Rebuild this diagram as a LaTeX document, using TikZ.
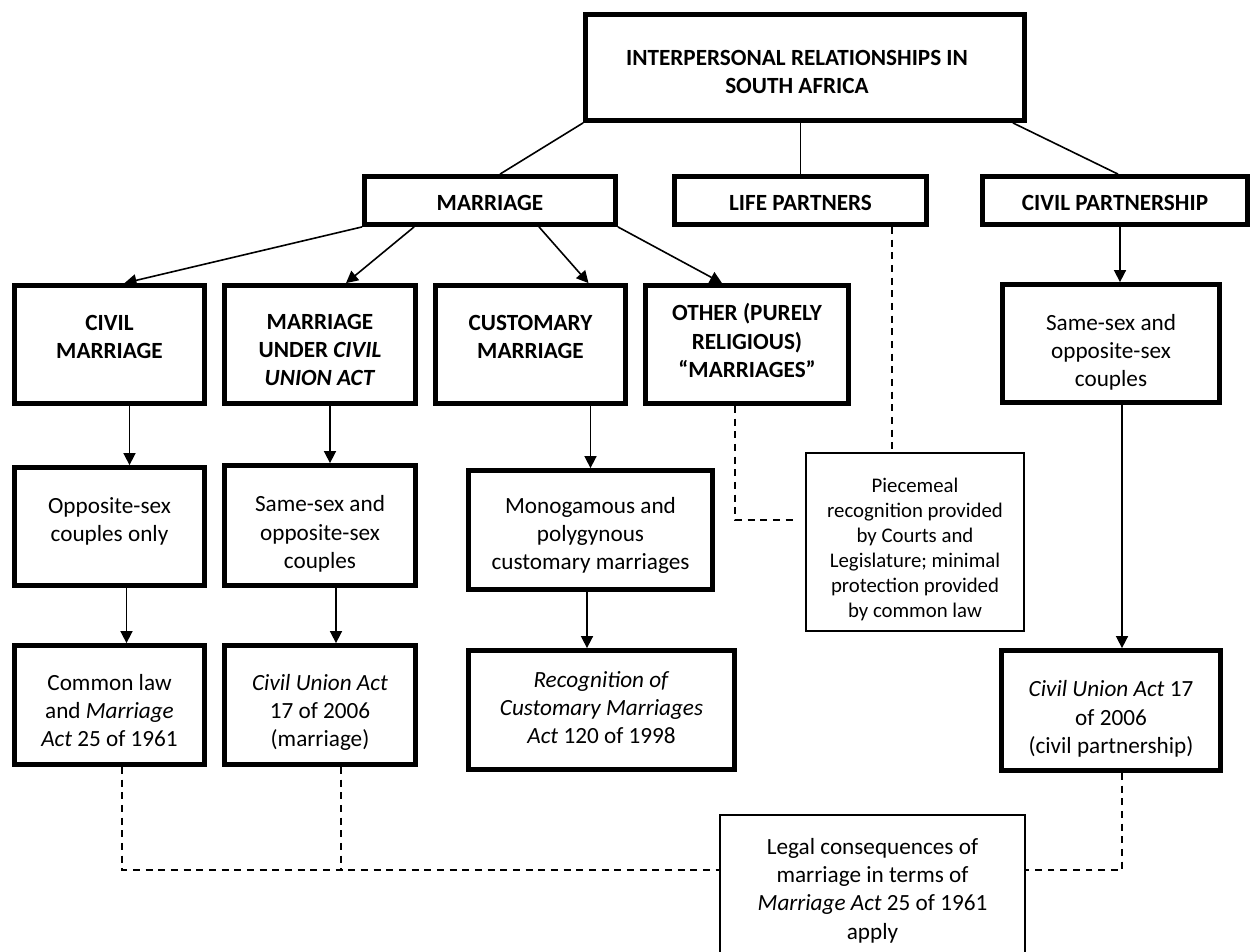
\documentclass[tikz,border=0pt]{standalone}
\usepackage{fontspec}
\setmainfont{Carlito}
\usetikzlibrary{calc,arrows.meta}
\newcommand{\tx}[2]{\raisebox{#1}[0pt][0pt]{\begin{tabular}{@{}c@{}}#2\end{tabular}}}
\newcommand{\txk}[3]{\raisebox{#2}[0pt][0pt]{\hspace*{#1}\begin{tabular}{@{}c@{}}#3\end{tabular}}}
\begin{document}
\begin{tikzpicture}[x=0.75pt,y=-0.75pt,
  wh/.style 2 args={minimum width=#1*0.75pt, minimum height=#2*0.75pt},
  thick box/.style={draw, line width=3.6pt, inner sep=0pt, font=\fontsize{17.4}{21.2}\selectfont},
  head/.style={thick box, font=\fontsize{17.4}{21.2}\selectfont\bfseries},
  thin box/.style={draw, line width=1.5pt, inner sep=0pt, font=\fontsize{17.4}{21.2}\selectfont},
  small/.style={font=\fontsize{15.6}{18.8}\selectfont},
  conn/.style={line width=1.2pt},
  arr/.style={conn, -{Triangle[length=9pt,width=9pt]}},
  dsh/.style={line width=1.1pt, dash pattern=on 5.2pt off 4.3pt}]
\useasboundingbox (0,0) rectangle (1250,951);
\clip (0,0) rectangle (1250,951);

% level 0 and 1
\node[head, wh={439}{106}] (top) at (805,67.5) {\txk{-12pt}{-9.15pt}{INTERPERSONAL RELATIONSHIPS IN\\SOUTH AFRICA}};
\node[head, wh={251}{48}] (mar) at (490,200.5) {\tx{-7.65pt}{MARRIAGE}};
\node[head, wh={252}{48}] (life) at (800.5,200.5) {\tx{-7.65pt}{LIFE PARTNERS}};
\node[head, wh={265}{48}] (cp) at (1115,200.5) {\tx{-7.65pt}{CIVIL PARTNERSHIP}};

% row 2
\node[head, wh={190}{118}] (cm) at (109.5,344.5) {\tx{0.2pt}{CIVIL\\MARRIAGE}};
\node[head, wh={191}{118}] (muca) at (320,344.5) {\tx{-9.9pt}{MARRIAGE\\UNDER \textit{CIVIL}\\\textit{UNION ACT}}};
\node[head, wh={190}{118}] (cust) at (530.5,344.5) {\tx{-0.15pt}{CUSTOMARY\\MARRIAGE}};
\node[head, wh={203}{118}] (oth) at (747,344.5) {\tx{-3.5pt}{OTHER (PURELY\\RELIGIOUS)\\“MARRIAGES”}};
\node[thick box, wh={217}{118}] (ss2) at (1111,343.5) {\tx{-11.4pt}{Same-sex and\\opposite-sex\\couples}};

% row 3
\node[thick box, wh={190}{118}] (opp) at (109.5,526.5) {\tx{-0.9pt}{Opposite-sex\\couples only}};
\node[thick box, wh={191}{120}] (ss1) at (320,525.5) {\tx{-11pt}{Same-sex and\\opposite-sex\\couples}};
\node[thick box, wh={244}{119}] (mono) at (590.5,530) {\tx{-8.8pt}{Monogamous and\\polygynous\\customary marriages}};
\node[thin box, small, wh={218}{178}] (piece) at (915,542) {\tx{-9.5pt}{Piecemeal\\recognition provided\\by Courts and\\Legislature; minimal\\protection provided\\by common law}};

% row 4
\node[thick box, wh={190}{119}] (cl) at (109.5,705) {\tx{-10.3pt}{Common law\\and \textit{Marriage}\\\textit{Act} 25 of 1961}};
\node[thick box, wh={191}{119}] (cua) at (320,705) {\tx{-10.3pt}{\textit{Civil Union Act}\\17 of 2006\\(marriage)}};
\node[thick box, wh={266}{119}] (rec) at (601.5,710) {\tx{-4.3pt}{\textit{Recognition of}\\\textit{Customary Marriages}\\\textit{Act} 120 of 1998}};
\node[thick box, wh={219}{120}] (cuap) at (1111,710.5) {\tx{-11pt}{\textit{Civil Union Act} 17\\of 2006\\(civil partnership)}};
\node[thin box, wh={305}{148}] (legal) at (872.5,889) {\tx{-5.8pt}{Legal consequences of\\marriage in terms of\\\textit{Marriage Act} 25 of 1961\\apply}};

% plain connectors from the top box
\draw[conn] (top.south west) -- ($(mar.north)+(10,0)$);
\draw[conn] (life.north |- top.south) -- (life.north);
\draw[conn] ($(top.south east)+(-14,0)$) -- ($(cp.north)+(3,0)$);

% arrows from MARRIAGE
\draw[arr] (mar.south west) -- ($(cm.north)+(15,0)$);
\draw[arr] ($(mar.south west)+(52,0)$) -- ($(muca.north)+(26,0)$);
\draw[arr] ($(mar.south)+(49,0)$) -- ($(cust.north)+(58,0)$);
\draw[arr] (mar.south east) -- ($(oth.north)+(-25,0)$);

% vertical arrows
\coordinate (a1) at ($(cm.south)+(20,0)$);
\draw[arr] (a1) -- (a1 |- opp.north);
\coordinate (a2) at ($(muca.south)+(10,0)$);
\draw[arr] (a2) -- (a2 |- ss1.north);
\coordinate (a3) at ($(mono.north)+(0,0)$);
\draw[arr] (a3 |- cust.south) -- (a3);
\coordinate (a4) at ($(ss2.north)+(9,0)$);
\draw[arr] (a4 |- cp.south) -- (a4);
\coordinate (a5) at ($(opp.south)+(17,0)$);
\draw[arr] (a5) -- (a5 |- cl.north);
\coordinate (a6) at ($(ss1.south)+(16,0)$);
\draw[arr] (a6) -- (a6 |- cua.north);
\coordinate (a7) at ($(mono.south)+(-3.5,0)$);
\draw[arr] (a7) -- (a7 |- rec.north);
\coordinate (a8) at ($(ss2.south)+(11,0)$);
\draw[arr] (a8) -- (a8 |- cuap.north);

% dashed links
\coordinate (d1) at ($(oth.south)+(-12,0)$);
\coordinate (d1e) at ($(piece.west)+(-8,-22)$);
\draw[dsh] (d1) |- (d1e);
\coordinate (d2) at ($(life.south)+(91.5,0)$);
\draw[dsh] (d2) -- (d2 |- piece.north);
\coordinate (lm) at ($(legal.west)+(0,-19)$);
\coordinate (rm) at ($(legal.east)+(0,-19)$);
\coordinate (d3) at ($(cl.south)+(12.5,0)$);
\coordinate (d4) at ($(cua.south)+(21,0)$);
\coordinate (d5) at ($(cuap.south)+(11,0)$);
\draw[dsh] (d3) |- (lm);
\draw[dsh] (d4) -- (d4 |- lm);
\draw[dsh] (d5) |- (rm);
\end{tikzpicture}
\end{document}
